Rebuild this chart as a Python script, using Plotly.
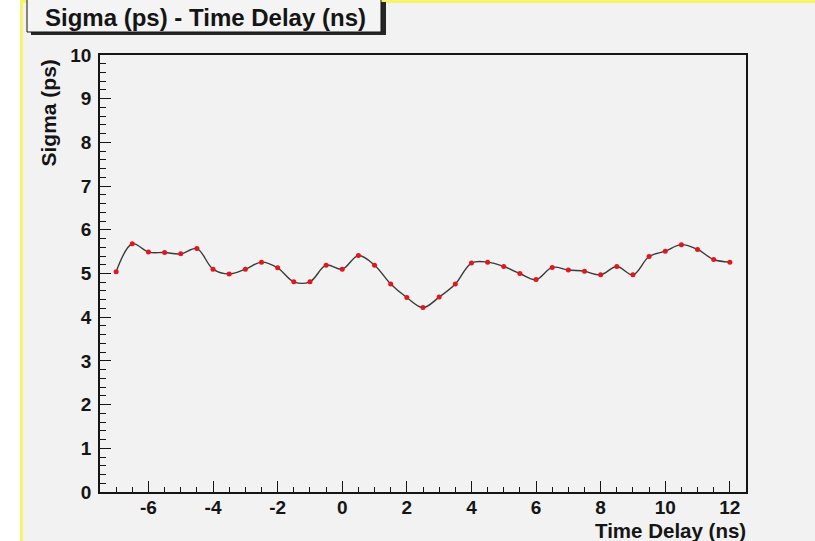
import plotly.graph_objects as go

# Data
time_delay = [-7.0, -6.5, -6.0, -5.5, -5.0, -4.5, -4.0, -3.5, -3.0, -2.5,
              -2.0, -1.5, -1.0, -0.5, 0.0, 0.5, 1.0, 1.5, 2.0, 2.5,
              3.0, 3.5, 4.0, 4.5, 5.0, 5.5, 6.0, 6.5, 7.0, 7.5,
              8.0, 8.5, 9.0, 9.5, 10.0, 10.5, 11.0, 11.5, 12.0]
sigma = [5.04, 5.68, 5.49, 5.48, 5.45, 5.57, 5.10, 4.99, 5.10, 5.26,
         5.13, 4.81, 4.81, 5.19, 5.10, 5.41, 5.19, 4.76, 4.45, 4.22,
         4.46, 4.76, 5.24, 5.26, 5.16, 5.00, 4.86, 5.14, 5.08, 5.05,
         4.97, 5.16, 4.97, 5.39, 5.51, 5.66, 5.55, 5.32, 5.26]

x_tick_vals = [-6, -4, -2, 0, 2, 4, 6, 8, 10, 12]
x_tick_text = ["-6", "-4", "-2", "0", "2", "4", "6", "8", "10", "12"]
y_tick_vals = [0, 1, 2, 3, 4, 5, 6, 7, 8, 9, 10]
y_tick_text = ["0", "1", "2", "3", "4", "5", "6", "7", "8", "9", "10"]

title_text = "Sigma (ps) - Time Delay (ns)"
x_title = "Time Delay (ns)"
y_title = "Sigma (ps)"

W, H = 815, 541
L, R, T, B = 100, 746, 55, 492  # plot area in pixels


def px(x):
    return (x - L) / (R - L)


def py(y):
    return (B - y) / (B - T)


FONT = "Liberation Sans, Arial, Helvetica, sans-serif"
BG = "#f2f2f2"
INK = "#151515"

fig = go.Figure()
fig.add_trace(go.Scatter(
    x=time_delay, y=sigma, mode="lines+markers",
    line=dict(color="#3a3a3a", width=1.4, shape="spline", smoothing=1.0),
    marker=dict(color="#e8141b", size=5, line=dict(width=0)),
    showlegend=False, hoverinfo="x+y",
))

shapes = [
    # white strip on the left
    dict(type="rect", xref="paper", yref="paper", x0=px(-5), x1=px(20),
         y0=py(W), y1=py(-5), fillcolor="white", line=dict(width=0), layer="below"),
    # yellow left line
    dict(type="rect", xref="paper", yref="paper", x0=px(20), x1=px(23),
         y0=py(W), y1=py(-5), fillcolor="#f6f56a", line=dict(width=0), layer="below"),
    # yellow top band
    dict(type="rect", xref="paper", yref="paper", x0=px(20), x1=px(W + 5),
         y0=py(3), y1=py(-5), fillcolor="#f6f56a", line=dict(width=0), layer="below"),
    # title box shadow
    dict(type="rect", xref="paper", yref="paper", x0=px(31), x1=px(386),
         y0=py(35), y1=py(2), fillcolor="#262626", line=dict(width=0)),
    # title box
    dict(type="rect", xref="paper", yref="paper", x0=px(27), x1=px(381),
         y0=py(32), y1=py(-5), fillcolor="#f4f4f4", line=dict(color=INK, width=1)),
]

annotations = [
    dict(text="<b>%s</b>" % title_text, xref="paper", yref="paper",
         x=px(205), y=py(17), xanchor="center", yanchor="middle", showarrow=False,
         font=dict(family=FONT, size=24, color=INK)),
    dict(text="<b>%s</b>" % x_title, xref="paper", yref="paper",
         x=px(748), y=py(530), xanchor="right", yanchor="middle", showarrow=False,
         font=dict(family=FONT, size=20.5, color=INK)),
    dict(text="<b>%s</b>" % y_title, xref="paper", yref="paper", textangle=-90,
         x=px(48), y=py(58), xanchor="center", yanchor="top", showarrow=False,
         font=dict(family=FONT, size=21, color=INK)),
]

fig.update_layout(
    width=W, height=H,
    margin=dict(l=L, r=W - R, t=T, b=H - B, pad=0),
    paper_bgcolor=BG, plot_bgcolor=BG,
    font=dict(family=FONT, size=19, color=INK),
    shapes=shapes, annotations=annotations,
    xaxis=dict(range=[-7.5, 12.5], tickmode="array", tickvals=x_tick_vals,
               ticktext=x_tick_text, ticks="inside", ticklen=11,
               tickwidth=1, tickcolor=INK, showgrid=False, zeroline=False,
               showline=True, linecolor=INK, linewidth=1.5, mirror=True,
               tickfont=dict(family=FONT, size=19, color=INK, weight="bold"),
               ticklabelstandoff=-3,
               minor=dict(dtick=0.5, tick0=0, ticks="inside", ticklen=5,
                          tickcolor=INK, tickwidth=1, showgrid=False)),
    yaxis=dict(range=[0, 10], tickmode="array", tickvals=y_tick_vals,
               ticktext=y_tick_text, ticks="inside", ticklen=11,
               tickwidth=1, tickcolor=INK, showgrid=False, zeroline=False,
               showline=True, linecolor=INK, linewidth=1.5, mirror=True,
               tickfont=dict(family=FONT, size=19, color=INK, weight="bold"),
               ticklabelstandoff=3,
               minor=dict(dtick=0.2, tick0=0, ticks="inside", ticklen=6,
                          tickcolor=INK, tickwidth=1, showgrid=False)),
)

fig.write_html("out.html", config={"displayModeBar": False},
               post_script="document.body.style.margin='0px';document.body.style.overflow='hidden';")
